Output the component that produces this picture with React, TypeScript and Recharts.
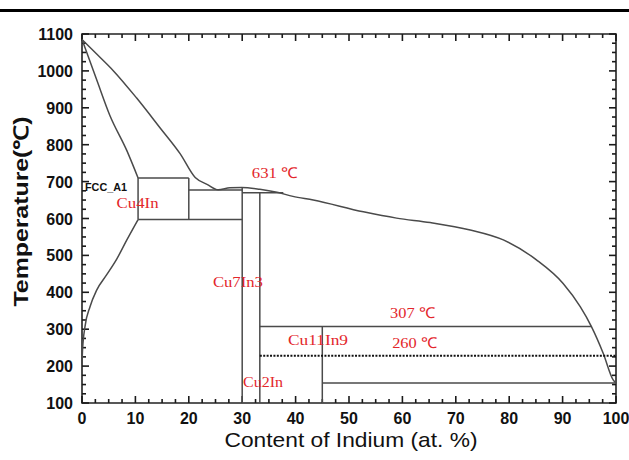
import { LineChart, Line, XAxis, YAxis, ReferenceDot, ReferenceArea } from "recharts"

// Cu-In phase diagram (x = at.% In, t = °C)
const liquidus = [
  [0, 1085], [2.8, 1045], [5.9, 1000], [10.2, 927], [14.6, 846], [18.4, 775], [21.2, 711],
  [23.5, 692], [25.5, 678], [27.7, 683], [29.9, 684], [33.3, 679], [36.5, 671], [39.5, 660],
  [43.3, 650], [52.7, 618], [58.9, 601], [65.2, 589], [72.7, 569], [78.9, 542], [85.1, 488],
  [90.1, 424], [93.3, 361], [95.4, 307], [97.6, 235], [99.5, 162], [100, 154],
]
const fccSolidus = [[0, 1085], [2.75, 976], [5.2, 880], [8.4, 784], [10.5, 710]]
const fccSolvus = [
  [0, 205], [0.1, 244], [0.56, 307], [1.5, 361], [2.75, 406], [4.6, 447], [6.5, 490], [8.4, 542], [10.5, 597],
]

// straight boundaries of the intermetallic fields
const tieLines = [
  [[10.5, 710], [20, 710]],
  [[10.5, 710], [10.5, 597]],
  [[10.5, 597], [30, 597]],
  [[20, 710], [20, 597]],
  [[20, 677], [30, 677]],
  [[30, 684], [30, 100]],
  [[30, 670], [37.7, 670]],
  [[33.3, 670], [33.3, 100]],
  [[33.3, 307], [95.4, 307]],
  [[45, 307], [45, 100]],
  [[45, 154], [100, 154]],
]
const dottedLine = [[33.3, 228], [100, 228]]

const notes = [
  { text: "FCC_A1", x: 4.5, t: 684 },
  { text: "Cu4In", x: 10.4, t: 642 },
  { text: "631 ℃", x: 36.1, t: 723 },
  { text: "Cu7In3", x: 29.2, t: 429 },
  { text: "307 ℃", x: 61.9, t: 343 },
  { text: "Cu11In9", x: 44.2, t: 271 },
  { text: "260 ℃", x: 62.3, t: 262 },
  { text: "Cu2In", x: 33.9, t: 158 },
]
const noteWidth: Record<string, number> = {
  "FCC_A1": 42, "Cu4In": 42, "631 ℃": 46, "Cu7In3": 50, "307 ℃": 45, "Cu11In9": 60, "260 ℃": 45, "Cu2In": 40,
}

const xMajor = [0, 10, 20, 30, 40, 50, 60, 70, 80, 90, 100]
const yMajor = [100, 200, 300, 400, 500, 600, 700, 800, 900, 1000, 1100]
const xTicks = xMajor.flatMap((v) => (v < 100 ? [v, v + 2.5, v + 5, v + 7.5] : [v]))
const yTicks = yMajor.flatMap((v) => (v < 1100 ? [v, v + 25, v + 50, v + 75] : [v]))

const pts = (arr: number[][]) => arr.map(([x, t]) => ({ x, t }))

const W = 629
const H = 460
const M = { top: 34, right: 13, bottom: 0, left: 0 }
const X_AXIS_H = 57
const Y_AXIS_W = 82
const PLOT_H = H - M.top - X_AXIS_H
const PLOT_W = W - M.right - Y_AXIS_W
const T_PER_PX = 1000 / PLOT_H
const X_PER_PX = 100 / PLOT_W

const FRAME = "#222"
const TICK = "#1a1a1a"
const LINE = "#4a4a4a"
const RED = "#e3262b"
const SANS = "'Liberation Sans', Arial, sans-serif"
const SERIF = "'Liberation Serif', 'Times New Roman', serif"
const MINOR = 4
const MAJOR = 7

const tickText = { fontFamily: SANS, fontSize: 16, fontWeight: "bold" as const, fill: "#111" }

function XLabelTick({ x, y, payload }: any) {
  return (
    <text x={x} y={y + 21} textAnchor="middle" {...tickText}>
      {payload.value}
    </text>
  )
}
function YLabelTick({ x, y, payload }: any) {
  return (
    <text x={x - 9} y={y + 6} textAnchor="end" {...tickText}>
      {payload.value}
    </text>
  )
}

function NoteText({ viewBox, note }: any) {
  const black = note.text === "FCC_A1"
  return (
    <text
      x={viewBox.x}
      y={viewBox.y}
      textAnchor="middle"
      dominantBaseline="central"
      fontFamily={black ? SANS : SERIF}
      fontWeight={black ? "bold" : "normal"}
      fontSize={black ? 10 : 15}
      fill={black ? "#111" : RED}
      textLength={noteWidth[note.text]}
      lengthAdjust="spacingAndGlyphs"
    >
      {note.text}
    </text>
  )
}

function YTitle({ viewBox }: any) {
  const cx = viewBox.x + 21
  const cy = viewBox.y + viewBox.height / 2 - 7
  return (
    <text
      transform={`translate(${cx},${cy}) rotate(-90)`}
      textAnchor="middle"
      dominantBaseline="central"
      fontFamily={SANS}
      fontSize={20}
      fontWeight="bold"
      fill="#111"
      textLength={190}
      lengthAdjust="spacingAndGlyphs"
    >
      Temperature(℃)
    </text>
  )
}

function XTitle({ viewBox }: any) {
  return (
    <text
      x={viewBox.x + viewBox.width / 2 + 2}
      y={viewBox.y + 44}
      textAnchor="middle"
      fontFamily={SANS}
      fontSize={21}
      fill="#111"
      textLength={253}
      lengthAdjust="spacingAndGlyphs"
    >
      Content of Indium (at. %)
    </text>
  )
}

// inward frame ticks as tiny two-point series on all four sides
function frameTicks() {
  const segs: { key: string; seg: number[][] }[] = []
  xTicks.forEach((v) => {
    const len = (v % 10 === 0 ? MAJOR : MINOR) * T_PER_PX
    segs.push({ key: `xb${v}`, seg: [[v, 100], [v, 100 + len]] })
    segs.push({ key: `xt${v}`, seg: [[v, 1100], [v, 1100 - len]] })
  })
  yTicks.forEach((v) => {
    const len = (v % 100 === 0 ? MAJOR : MINOR) * X_PER_PX
    segs.push({ key: `yl${v}`, seg: [[0, v], [len, v]] })
    segs.push({ key: `yr${v}`, seg: [[100 - len, v], [100, v]] })
  })
  return segs.map(({ key, seg }) => (
    <Line key={key} xAxisId="b" yAxisId="l" data={pts(seg)} dataKey="t" type="linear" stroke={TICK}
      strokeWidth={1.6} dot={false} activeDot={false} isAnimationActive={false} />
  ))
}

export default function App() {
  return (
    <div style={{ position: "absolute", left: 0, top: 0, width: W, height: H, background: "#fff" }}>
      <div style={{ position: "absolute", left: 0, top: 9, width: W, height: 2.5, background: "#000" }} />
      <LineChart width={W} height={H} margin={M}>
        <XAxis
          xAxisId="b"
          type="number"
          dataKey="x"
          domain={[0, 100]}
          ticks={xMajor}
          interval={0}
          height={X_AXIS_H}
          tickSize={0}
          tickMargin={0}
          tickLine={false}
          tick={<XLabelTick />}
          axisLine={false}
          label={{ content: (p: any) => <XTitle {...p} /> }}
        />
        <YAxis
          yAxisId="l"
          type="number"
          dataKey="t"
          domain={[100, 1100]}
          ticks={yMajor}
          interval={0}
          width={Y_AXIS_W}
          tickSize={0}
          tickMargin={0}
          tickLine={false}
          tick={<YLabelTick />}
          axisLine={false}
          label={{ content: (p: any) => <YTitle {...p} /> }}
        />

        <ReferenceArea xAxisId="b" yAxisId="l" x1={0} x2={100} y1={100} y2={1100}
          fill="none" fillOpacity={0} stroke={FRAME} strokeWidth={1.6} />
        {frameTicks()}

        <Line xAxisId="b" yAxisId="l" data={pts(liquidus)} dataKey="t" type="monotone" stroke={LINE}
          strokeWidth={1.5} dot={false} activeDot={false} isAnimationActive={false} />
        <Line xAxisId="b" yAxisId="l" data={pts(fccSolidus)} dataKey="t" type="monotone" stroke={LINE}
          strokeWidth={1.5} dot={false} activeDot={false} isAnimationActive={false} />
        <Line xAxisId="b" yAxisId="l" data={pts(fccSolvus)} dataKey="t" type="monotone" stroke={LINE}
          strokeWidth={1.5} dot={false} activeDot={false} isAnimationActive={false} />
        {tieLines.map((seg, i) => (
          <Line key={`tie-${i}`} xAxisId="b" yAxisId="l" data={pts(seg)} dataKey="t" type="linear"
            stroke={LINE} strokeWidth={1.5} dot={false} activeDot={false} isAnimationActive={false} />
        ))}
        <Line xAxisId="b" yAxisId="l" data={pts(dottedLine)} dataKey="t" type="linear" stroke="#111"
          strokeWidth={2.2} strokeDasharray="2 1.4" dot={false} activeDot={false} isAnimationActive={false} />

        {notes.map((n) => (
          <ReferenceDot key={n.text} xAxisId="b" yAxisId="l" x={n.x} y={n.t} r={0} fill="none" stroke="none"
            label={(p: any) => <NoteText {...p} note={n} />} />
        ))}
      </LineChart>
    </div>
  )
}
